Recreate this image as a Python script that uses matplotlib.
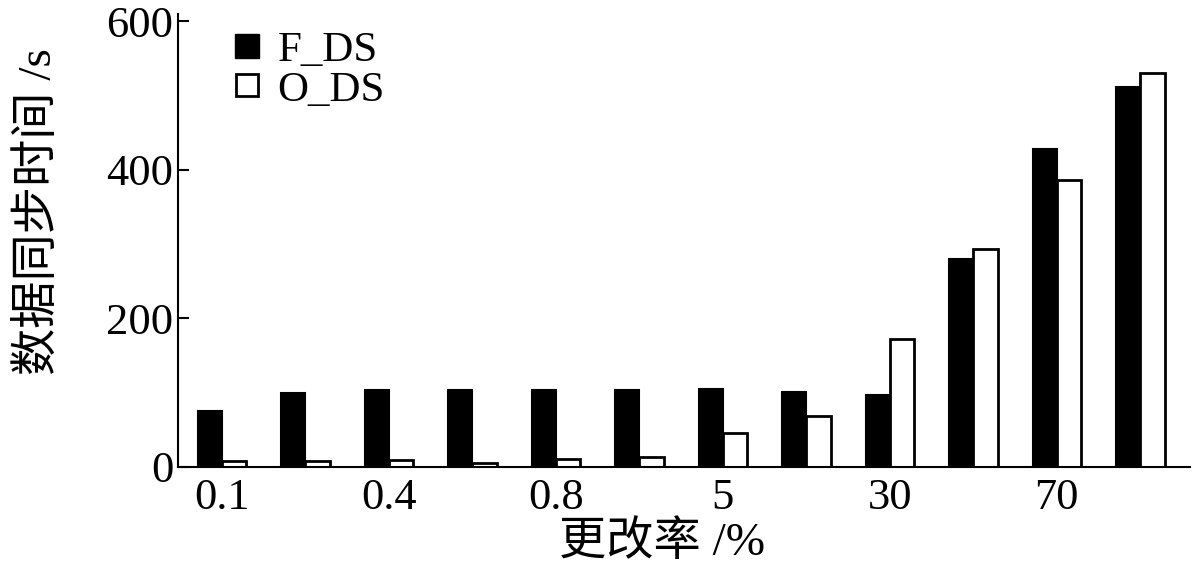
import matplotlib
matplotlib.use("Agg")
import matplotlib.pyplot as plt
import numpy as np
from matplotlib.lines import Line2D

plt.rcParams['font.family'] = ['Liberation Serif', 'Noto Sans CJK SC', 'DejaVu Sans']

categories = ['0.1', '0.2', '0.4', '0.6', '0.8', '1', '5', '10', '30', '50', '70', '90']
tick_labels = ['0.1', '', '0.4', '', '0.8', '', '5', '', '30', '', '70', '']
f_ds = [75, 99, 104, 104, 104, 104, 105, 101, 97, 280, 428, 512]
o_ds = [8, 8, 9, 6, 11, 14, 46, 69, 173, 293, 386, 531]
yticks = [0, 200, 400, 600]

fig = plt.figure(figsize=(12, 5.72), dpi=100)
ax = fig.add_axes([0.148, 0.1836, 0.844, 0.7919])

x = np.arange(len(categories))
w = 0.29
ax.bar(x - w / 2, f_ds, width=w, color='black', edgecolor='black', linewidth=1.5)
ax.bar(x + w / 2, o_ds, width=w, color='white', edgecolor='black', linewidth=2.0)

ax.set_xlim(-0.53, 11.6)
ax.set_ylim(0, 610)
ax.set_xticks(x)
ax.set_xticklabels(tick_labels, fontsize=32)
ax.set_yticks(yticks)
ax.set_yticklabels([str(v) for v in yticks], fontsize=32)
ax.tick_params(axis='x', length=0, pad=8)
ax.tick_params(axis='y', direction='in', length=8, width=1.5, pad=3)

for s in ['top', 'right']:
    ax.spines[s].set_visible(False)
for s in ['left', 'bottom']:
    ax.spines[s].set_linewidth(1.5)

ax.set_xlabel('更改率 /%', fontsize=34, va='center', ha='center')
ax.xaxis.set_label_coords(0.478, -0.168)
ax.set_ylabel('数据同步时间 /s', fontsize=34, va='center', ha='center')
ax.yaxis.set_label_coords(-0.137, 0.563)

handles = [
    Line2D([], [], marker='s', linestyle='none', markersize=17,
           markerfacecolor='black', markeredgecolor='black'),
    Line2D([], [], marker='s', linestyle='none', markersize=16,
           markerfacecolor='white', markeredgecolor='black', markeredgewidth=2.0),
]
ax.legend(handles, ['F_DS', 'O_DS'], loc='upper left', bbox_to_anchor=(0.035, 1.0),
          frameon=False, fontsize=31, handlelength=0.8, handletextpad=0.3,
          labelspacing=0.0, borderaxespad=0.0)

fig.savefig('out.png', dpi=100)
